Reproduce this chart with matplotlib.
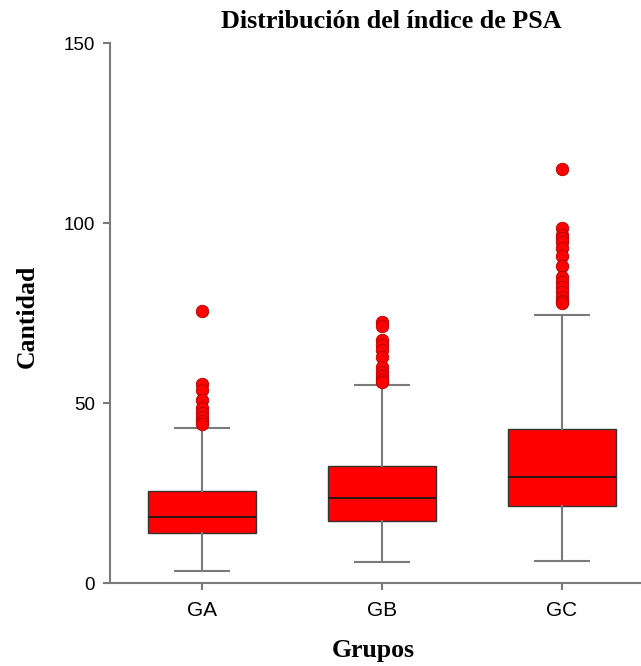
import numpy as np
import matplotlib
matplotlib.use("Agg")
import matplotlib.pyplot as plt

# PSA index per group: box summary and points outside the whiskers
groups = ["GA", "GB", "GC"]
whislo = [3.4, 5.8, 6.1]
q1 = [14.0, 17.3, 21.4]
medians = [18.4, 23.5, 29.5]
q3 = [25.6, 32.6, 42.7]
whishi = [43.1, 55.0, 74.4]
outliers_ga = [75.6, 55.2, 53.6, 50.8, 48.5, 47.1, 46.2, 45.0, 44.1]
outliers_gb = [72.6, 71.4, 67.5, 66.1, 64.7, 62.9, 60.1, 58.7, 57.5, 56.4, 55.9]
outliers_gc = [114.9, 98.5, 96.7, 95.7, 94.8, 93.0, 90.8, 88.1, 85.1,
               83.7, 82.3, 80.9, 79.5, 78.4, 77.9]
outliers = [outliers_ga, outliers_gb, outliers_gc]

serif = ["Liberation Serif", "DejaVu Serif"]
sans = ["Liberation Sans", "DejaVu Sans"]
axis_grey = "#7a7a7a"

stats = []
for i, name in enumerate(groups):
    stats.append({
        "label": name,
        "whislo": whislo[i],
        "q1": q1[i],
        "med": medians[i],
        "q3": q3[i],
        "whishi": whishi[i],
        "fliers": outliers[i],
    })

fig = plt.figure(figsize=(6.41, 6.66), dpi=100)
ax = fig.add_axes([110 / 641, 1 - 583 / 666, 531 / 641, 540 / 666])

ax.bxp(
    stats,
    positions=[1, 2, 3],
    widths=0.6,
    capwidths=0.3,
    patch_artist=True,
    boxprops=dict(facecolor="#ff0000", edgecolor="#333333", linewidth=1.0),
    medianprops=dict(color="#1a1a1a", linewidth=1.3),
    whiskerprops=dict(color=axis_grey, linewidth=1.5),
    capprops=dict(color=axis_grey, linewidth=1.5),
    flierprops=dict(marker="o", markerfacecolor="#ff0000",
                    markeredgecolor="#b00000", markeredgewidth=0.6,
                    markersize=9, linestyle="none"),
)

x_left = 1 - 92 / 180
ax.set_xlim(x_left, x_left + 531 / 180)
ax.set_ylim(0, 150)
ax.set_yticks([0, 50, 100, 150])
ax.set_xticks([1, 2, 3])
ax.set_xticklabels(groups)

for side in ["top", "right"]:
    ax.spines[side].set_visible(False)
for side in ["left", "bottom"]:
    ax.spines[side].set_color(axis_grey)
    ax.spines[side].set_linewidth(1.5)

ax.tick_params(axis="both", direction="out", length=5, width=1.5,
               color=axis_grey)
ax.tick_params(axis="y", pad=6, labelsize=13.5)
ax.tick_params(axis="x", pad=8, labelsize=15)
for lbl in ax.get_xticklabels() + ax.get_yticklabels():
    lbl.set_family(sans)

ax.set_xlabel("Grupos", family=serif, fontweight="bold", fontsize=18.5,
              va="center")
ax.xaxis.set_label_coords(0.496, -(650 - 583) / 540)
ax.set_ylabel("Cantidad", family=serif, fontweight="bold", fontsize=18.5,
              va="center", ha="center")
ax.yaxis.set_label_coords(-(110 - 27) / 531, 0.493)

fig.text(391 / 641, 1 - 21 / 666, "Distribución del índice de PSA",
         family=serif, fontweight="bold", fontsize=18.8,
         ha="center", va="center")

fig.savefig("out.png", dpi=100)
